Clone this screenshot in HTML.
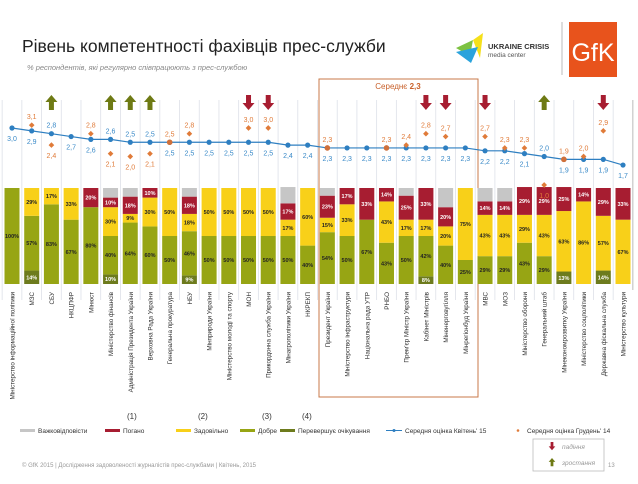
<!DOCTYPE html>
<html><head><meta charset="utf-8"><style>
body{margin:0;width:638px;height:479px;background:#fff;font-family:"Liberation Sans",sans-serif;overflow:hidden;position:relative}
</style></head><body>
<svg id="c" width="638" height="479" xmlns="http://www.w3.org/2000/svg" font-family="Liberation Sans, sans-serif">
<text x="22" y="52" font-size="17.5" fill="#222">Рівень компетентності фахівців прес-служби</text>
<text x="27" y="70" font-size="7.5" font-style="italic" fill="#888">% респондентів, які регулярно співпрацюють з прес-службою</text>
<g>
<polygon points="473,40 483,33 480,58" fill="#f5e01a"/><polygon points="456,48 473,40 470,56" fill="#7dc242"/><polygon points="456,52 478,47 471,63" fill="#2aa3dc"/>
<text x="488" y="49" font-size="7.5" font-weight="bold" fill="#333">UKRAINE CRISIS</text>
<text x="488" y="57" font-size="6.5" fill="#555">media center</text></g>
<line x1="562" y1="22" x2="562" y2="75" stroke="#aaa" stroke-width="0.8"/>
<g><rect x="569" y="22" width="48" height="55" fill="#e8531c"/><text x="593" y="61" font-size="25" fill="#fff" text-anchor="middle">GfK</text></g>
<rect x="319" y="79" width="159" height="318" fill="none" stroke="#c87a4a" stroke-width="1"/>
<text x="398" y="89" font-size="8" fill="#c8602a" text-anchor="middle">Середнє <tspan font-weight="bold">2,3</tspan></text>
<g id="plot"></g>
<g id="legend" font-size="6.5" fill="#333"></g>
<text x="22" y="467" font-size="6" fill="#999">© GfK 2015 | Дослідження задоволеності журналістів прес-службами | Квітень, 2015</text>
<text x="608" y="467" font-size="6" fill="#999">13</text>
</svg>
<script>
const categories=["Міністерство інформаційної політики","МЗС","СБУ","НКЦПФР","Мінюст","Міністерство фінансів","Адміністрація Президента України","Верховна Рада України","Генеральна прокуратура","НБУ","Мінприроди України","Міністерство молоді та спорту","МОН","Прикордонна служба України","Мінагрополітики України","НКРЕКП","Президент України","Міністерство інфраструктури","Національна рада УТР","РНБО","Прем'єр Міністр України","Кабінет Міністрів","Міненерговугілля","Мінрегіонбуд України","МВС","МОЗ","Міністерство оборони","Генеральний штаб","Мінекономрозвитку України","Міністерство соцполітики","Державна фіскальна служба","Міністерство культури"];
const exceeds=[0,14,0,0,0,10,0,0,0,9,0,0,0,0,0,0,0,0,0,0,0,8,0,0,0,0,0,0,13,0,14,0];
const good=[100,57,83,67,80,40,64,60,50,46,50,50,50,50,50,40,54,50,67,43,50,42,40,25,29,29,43,29,0,0,0,0];
const satisf=[0,29,17,33,0,30,9,30,50,18,50,50,50,50,17,60,15,33,0,43,17,17,20,75,43,43,29,43,63,86,57,67];
const bad=[0,0,0,0,20,10,18,10,0,18,0,0,0,0,17,0,23,17,33,14,25,33,20,0,14,14,29,29,25,14,29,33];
const hard=[0,0,0,0,0,10,9,0,0,9,0,0,0,0,17,0,8,0,0,0,8,0,20,0,14,14,0,0,0,0,0,0];
const avgApr15=[3.0,2.9,2.8,2.7,2.6,2.6,2.5,2.5,2.5,2.5,2.5,2.5,2.5,2.5,2.4,2.4,2.3,2.3,2.3,2.3,2.3,2.3,2.3,2.3,2.2,2.2,2.1,2.0,1.9,1.9,1.9,1.7];
const avgDec14=[null,3.1,2.4,null,2.8,2.1,2.0,2.1,2.5,2.8,null,null,3.0,3.0,null,null,2.3,null,null,2.3,2.4,2.8,2.7,null,2.7,2.3,2.3,1.0,1.9,2.0,2.9,null];
const upIdx=[2,5,6,7,27];
const downIdx=[12,13,21,22,24,30];
const NS="http://www.w3.org/2000/svg";
const plot=document.getElementById('plot');
function mk(t,a,p){const e=document.createElementNS(NS,t);for(const k in a)e.setAttribute(k,a[k]);(p||plot).appendChild(e);return e;}
const pitch=19.71,x0=12,bw=15,barTop=188,barBot=284;
const xs=i=>x0+i*pitch;
const yv=v=>128+(3-v)*28.5;
const yp=p=>(barBot-barTop)*p/100;
const fmt=v=>v.toFixed(1).replace('.',',');
const C={hard:"#c6c6c6",bad:"#a71d31",sat:"#f8d019",good:"#97a514",exc:"#6d7b1d"};
// gridlines
for(let i=0;i<=categories.length;i++){const gx=xs(i)-pitch/2;const g=mk('line',{x1:gx,y1:100,x2:gx,y2:i==categories.length?290:300,stroke:i==categories.length?"#aaa":"#dde0e8","stroke-width":0.8});

}
categories.forEach((c,i)=>{
  const cx=xs(i);let y=barBot;
  const segs=[[exceeds[i],C.exc,"#fff","exceeds"],[good[i],C.good,"#222","good"],[satisf[i],C.sat,"#222","satisfactory"],[bad[i],C.bad,"#fff","bad"],[hard[i],C.hard,"#fff","hard-to-say"]];
  segs.forEach(s=>{if(!s[0])return;const h=yp(s[0]);y-=h;
    const r=mk('rect',{x:cx-bw/2,y:y,width:bw,height:h,fill:s[1]});
    
    
    if(s[3]!="hard-to-say"){const t=mk('text',{x:cx,y:y+h/2+2,"font-size":5.5,"font-weight":"bold","text-anchor":"middle",fill:s[2]});t.textContent=s[0]+'%';
    
    }
  });
  const lt=mk('text',{transform:`translate(${cx+2.5},292) rotate(-90)`,"font-size":6.3,"text-anchor":"end",fill:"#333"});lt.textContent=c;
  
  
});
// line
let d='';avgApr15.forEach((v,i)=>{d+=(i?'L':'M')+xs(i)+','+yv(v)});
const ln=mk('path',{d:d,fill:"none",stroke:"#2e7fc1","stroke-width":1.2});


avgApr15.forEach((v,i)=>{
  const o=avgDec14[i];const above=(o!==null&&o<v);
  const p=mk('circle',{cx:xs(i),cy:yv(v),r:2.6,fill:"#2e7fc1"});
  
  
  const t=mk('text',{x:xs(i),y:above?yv(v)-6:yv(v)+13,"font-size":7,"text-anchor":"middle",fill:"#3a8ac8"});t.textContent=fmt(v);
  
  
  if(o!==null){
    const oy=yv(o);
    const q=(o===v)?mk('circle',{cx:xs(i),cy:oy,r:2.8,fill:"#d0703a"}):mk('rect',{x:xs(i)-2,y:oy-2,width:4,height:4,fill:"#e07b39",transform:`rotate(45 ${xs(i)} ${oy})`});
    
    
    const ot=mk('text',{x:xs(i),y:o<v?oy+13:oy-6,"font-size":7,"text-anchor":"middle",fill:"#e07b39"});ot.textContent=fmt(o);
    
    
  }
});
function arrow(cx,y,up,col,s,parent){
  if(up)return mk('path',{d:`M${cx},${y} l${-6*s},${7*s} h${3.5*s} v${8*s} h${5*s} v${-8*s} h${3.5*s}z`,fill:col},parent);
  return mk('path',{d:`M${cx},${y+15*s} l${-6*s},${-7*s} h${3.5*s} v${-8*s} h${5*s} v${8*s} h${3.5*s}z`,fill:col},parent);
}
upIdx.forEach(i=>{const a=arrow(xs(i),95,true,"#6e7a14",1);

});
downIdx.forEach(i=>{const a=arrow(xs(i),95,false,"#a71d31",1);

});
// legend
const lg=document.getElementById('legend');
const items=[[20,"Важковідповісти",C.hard,null],[105,"Погано",C.bad,"(1)"],[176,"Задовільно",C.sat,"(2)"],[240,"Добре",C.good,"(3)"],[280,"Перевершує очікування",C.exc,"(4)"]];
items.forEach(it=>{
  const r=mk('rect',{x:it[0],y:429,width:15,height:3,fill:it[2]},lg);
  
  
  const t=mk('text',{x:it[0]+18,y:433},lg);t.textContent=it[1];
  
  
  if(it[3]){const n=mk('text',{x:it[0]+22,y:419,"font-size":8},lg);n.textContent=it[3];
  
  }
});
mk('line',{x1:386,y1:430.5,x2:402,y2:430.5,stroke:"#2e7fc1","stroke-width":1},lg);
mk('circle',{cx:394,cy:430.5,r:1.5,fill:"#2e7fc1"},lg);
const t1=mk('text',{x:405,y:433},lg);t1.textContent="Середня оцінка Квітень' 15";


mk('circle',{cx:518,cy:430.5,r:1.3,fill:"#e07b39"},lg);
const t2=mk('text',{x:527,y:433},lg);t2.textContent="Середня оцінка  Грудень' 14";


const bx=mk('rect',{x:533,y:439,width:71,height:32,fill:"#fff",stroke:"#bbb","stroke-width":0.8},lg);


arrow(552,442,false,"#a71d31",0.55,lg);arrow(552,458,true,"#6e7a14",0.55,lg);
const t3=mk('text',{x:562,y:449,"font-style":"italic",fill:"#999"},lg);t3.textContent="падіння";


const t4=mk('text',{x:562,y:465,"font-style":"italic",fill:"#999"},lg);t4.textContent="зростання";


</script>
</body></html>
